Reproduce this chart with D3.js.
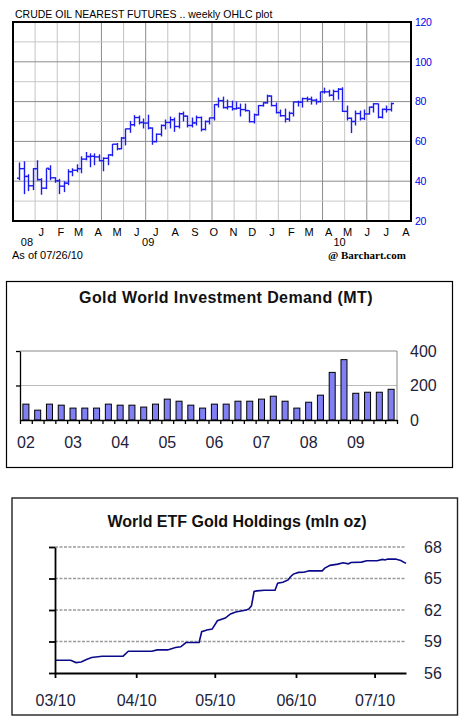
<!DOCTYPE html>
<html>
<head>
<meta charset="utf-8">
<script src="https://cdn.jsdelivr.net/npm/d3@7"></script>
<style>
  body { margin: 0; background: #fff; }
  svg { display: block; font-family: "Liberation Sans", Arial, sans-serif; }
</style>
</head>
<body>
<div id="chart"></div>
<script>
// ---- crude oil, weekly OHLC (week ending Fridays, 12 Dec 2008 .. 23 Jul 2010)
var oilOpen  = [41.5,46.3,42.4,37.7,46.3,40.8,36.5,46.0,41.7,40.2,37.5,39.0,44.8,45.5,46.3,51.1,52.4,52.5,52.2,50.3,51.5,53.2,58.6,56.3,61.7,66.3,68.4,72.0,69.5,69.2,66.7,59.9,63.6,68.0,69.5,70.9,67.5,73.9,72.7,68.0,69.3,72.0,66.0,70.0,71.8,78.5,80.5,77.0,77.4,76.4,76.7,76.0,75.5,69.9,73.4,78.0,79.4,82.8,78.0,74.5,72.9,71.2,74.1,79.8,79.7,81.5,81.2,80.7,80.0,84.9,84.9,83.2,85.1,86.2,75.1,71.6,70.0,74.0,71.5,73.8,77.2,78.9,72.1,76.1,76.0];
var oilHigh  = [49.4,50.0,43.5,46.6,50.5,41.5,46.5,48.0,42.0,41.2,40.0,46.0,46.5,48.5,52.5,54.7,54.0,54.0,53.5,52.0,53.5,58.7,59.2,62.2,66.4,70.3,73.2,73.0,71.5,73.4,67.0,64.0,68.5,71.0,72.5,72.0,74.5,75.0,73.0,72.0,73.0,72.5,70.5,72.0,78.7,82.0,82.5,81.0,80.5,80.0,79.0,79.0,75.5,74.0,78.3,79.7,83.5,83.1,79.5,76.0,76.5,75.0,80.0,80.5,82.0,82.5,82.5,81.5,85.0,87.0,86.0,86.0,86.8,87.2,78.0,72.0,75.5,75.5,76.0,77.5,79.2,79.0,76.5,78.0,79.5];
var oilLow   = [40.5,33.5,35.0,35.5,40.3,33.2,36.0,40.5,39.2,33.5,34.5,38.0,42.5,44.5,44.0,50.5,47.0,48.0,50.0,45.0,48.0,52.5,55.5,56.0,58.0,64.3,67.5,68.5,66.5,66.0,58.3,59.5,62.5,66.0,66.5,64.8,66.5,70.0,67.0,67.0,68.0,65.0,65.5,68.5,70.5,77.0,76.5,76.0,75.5,76.0,72.5,75.0,69.5,69.0,73.0,77.5,79.0,77.6,74.0,72.4,69.5,70.0,72.5,77.5,77.0,80.0,78.5,78.5,79.5,84.0,82.5,80.5,81.0,74.8,70.5,64.2,68.0,70.5,70.7,73.5,74.5,71.6,71.5,74.5,75.0];
var oilClose = [46.3,42.4,37.7,46.3,40.8,36.5,46.5,41.7,40.2,37.5,39.0,44.8,45.5,46.3,51.1,52.4,52.5,52.2,50.3,51.5,53.2,58.6,56.3,61.7,66.3,68.4,72.0,69.5,69.2,66.7,59.9,63.6,68.0,69.5,70.9,67.5,73.9,72.7,68.0,69.3,72.0,66.0,70.0,71.8,78.5,80.5,77.0,77.4,76.4,76.7,76.0,75.5,69.9,73.4,78.0,79.4,82.8,78.0,74.5,72.9,71.2,74.1,79.8,79.7,81.5,81.2,80.7,80.0,84.9,84.9,83.2,85.1,86.2,75.1,71.6,70.0,74.0,71.5,73.8,77.2,78.9,72.1,76.1,76.0,79.0];
var oilPriceTicks = [20, 40, 60, 80, 100, 120];
var monthLetters = ["J","F","M","A","M","J","J","A","S","O","N","D","J","F","M","A","M","J","J","A"];
var yearLabels = [{label: "08", date: "2008-12-24"}, {label: "09", date: "2009-07-04"}, {label: "10", date: "2010-05-03"}];

// ---- gold world investment demand, quarterly, tonnes
var demandYears = ["02","03","04","05","06","07","08","09"];
var demandValues = [92,57,92,86, 69,69,69,92, 86,86,75,92, 121,109,86,69, 92,92,109,109, 121,138,109,69, 103,144,276,350, 155,161,161,178];
var demandTicks = [0, 200, 400];

// ---- world ETF gold holdings, mln oz
var etfDates = ["2010-03-01","2010-03-07","2010-03-09","2010-03-11","2010-03-13","2010-03-15","2010-03-19","2010-03-27","2010-03-29",
  "2010-04-07","2010-04-09","2010-04-13","2010-04-16","2010-04-18","2010-04-20","2010-04-25","2010-04-26","2010-04-28","2010-04-30",
  "2010-05-02","2010-05-05","2010-05-07","2010-05-09","2010-05-11","2010-05-13","2010-05-14","2010-05-15","2010-05-16","2010-05-17",
  "2010-05-20","2010-05-24","2010-05-25","2010-05-27","2010-05-29","2010-05-30","2010-05-31","2010-06-02","2010-06-04","2010-06-06",
  "2010-06-11","2010-06-12","2010-06-14","2010-06-17","2010-06-19","2010-06-21","2010-06-22","2010-06-26","2010-06-28","2010-07-02",
  "2010-07-04","2010-07-05","2010-07-06","2010-07-09","2010-07-11","2010-07-13"];
var etfValues = [57.21,57.21,56.99,57.05,57.28,57.47,57.60,57.60,58.07,
  58.07,58.20,58.20,58.43,58.49,58.90,58.90,59.93,60.09,60.18,
  60.98,61.23,61.62,61.81,61.90,62.00,62.10,62.40,63.76,63.82,
  63.88,63.88,64.55,64.65,64.87,65.19,65.42,65.58,65.60,65.73,
  65.73,65.99,66.25,66.37,66.50,66.40,66.53,66.56,66.69,66.69,
  66.82,66.76,66.85,66.85,66.72,66.44];
var etfTicks = [56, 59, 62, 65, 68];
var etfMonths = ["2010-03-01","2010-04-01","2010-05-01","2010-06-01","2010-07-01"];

var parse = d3.timeParse("%Y-%m-%d");

var svg = d3.select("#chart").append("svg")
  .attr("width", 467)
  .attr("height", 719);
svg.append("rect").attr("width", 467).attr("height", 719).attr("fill", "#fff");

// ================= top: crude oil OHLC =================
var weeks = d3.timeFriday.range(new Date(2008, 11, 12), new Date(2010, 6, 24));
var oilG = svg.append("g");

var x1 = d3.scaleTime()
  .domain([new Date(2008, 11, 2), new Date(2010, 7, 24)])
  .range([13, 411]);
var y1 = d3.scaleLinear()
  .domain([20, 120])
  .range([221, 22]);

oilG.append("text")
  .attr("x", 15).attr("y", 18)
  .attr("font-size", 10.5)
  .attr("fill", "#000")
  .text("CRUDE OIL NEAREST FUTURES .. weekly OHLC plot");

// grid
var gridDates = d3.range(0, 17).map(function(i) { return d3.timeDay.offset(new Date(2009, 0, 6), 35 * i); });
var darkGrid = [3, 5, 8, 13, 15];
oilG.selectAll(".vgrid").data(gridDates).enter().append("line")
  .attr("x1", function(d) { return x1(d); })
  .attr("x2", function(d) { return x1(d); })
  .attr("y1", y1(120)).attr("y2", y1(20))
  .attr("stroke", function(d, i) { return darkGrid.indexOf(i) >= 0 ? "#8c8c8c" : "#c4c4c4"; })
  .attr("stroke-width", 1);
oilG.selectAll(".hgrid").data(d3.range(30, 120, 10)).enter().append("line")
  .attr("x1", 13).attr("x2", 411)
  .attr("y1", function(d) { return y1(d); })
  .attr("y2", function(d) { return y1(d); })
  .attr("stroke", function(d) { return d % 20 === 0 ? "#8c8c8c" : "#c8c8c8"; })
  .attr("stroke-width", 1);

// bars
var bars = oilG.append("g")
  .attr("stroke", "#1c1cf0")
  .attr("stroke-width", 1.4);
weeks.forEach(function(w, i) {
  var cx = Math.round(x1(w)) + 0.5;
  bars.append("line").attr("x1", cx).attr("x2", cx)
    .attr("y1", y1(oilHigh[i])).attr("y2", y1(oilLow[i]));
  bars.append("line").attr("x1", cx - 2.5).attr("x2", cx)
    .attr("y1", y1(oilOpen[i])).attr("y2", y1(oilOpen[i]));
  bars.append("line").attr("x1", cx).attr("x2", cx + 2.5)
    .attr("y1", y1(oilClose[i])).attr("y2", y1(oilClose[i]));
});

oilG.append("rect")
  .attr("x", 13).attr("y", 22)
  .attr("width", 398).attr("height", 199)
  .attr("fill", "none")
  .attr("stroke", "#000")
  .attr("stroke-width", 2);

// price axis (right)
var yAxis1 = oilG.append("g")
  .attr("transform", "translate(411,0)")
  .call(d3.axisRight(y1).tickValues(oilPriceTicks).tickSize(0).tickPadding(4));
yAxis1.select(".domain").remove();
yAxis1.selectAll("text")
  .attr("font-family", "Liberation Sans, Arial, sans-serif")
  .attr("font-size", 10.5)
  .attr("fill", "#0000ee")
  .attr("letter-spacing", -0.4);

// month axis
var monthDates = d3.timeMonth.range(new Date(2009, 0, 1), new Date(2010, 8, 1)).map(function(d) { return d3.timeDay.offset(d, 14); });
var xAxis1 = oilG.append("g")
  .attr("transform", "translate(0,221)")
  .call(d3.axisBottom(x1).tickValues(monthDates).tickSize(0).tickPadding(7)
    .tickFormat(function(d, i) { return monthLetters[i]; }));
xAxis1.select(".domain").remove();
xAxis1.selectAll("text")
  .attr("font-family", "Liberation Sans, Arial, sans-serif")
  .attr("font-size", 11)
  .attr("fill", "#000");

oilG.selectAll(".year").data(yearLabels).enter().append("text")
  .attr("x", function(d) { return x1(parse(d.date)); })
  .attr("y", 246)
  .attr("text-anchor", "middle")
  .attr("font-size", 11)
  .text(function(d) { return d.label; });

oilG.append("text")
  .attr("x", 12).attr("y", 259)
  .attr("font-size", 11)
  .text("As of 07/26/10");
oilG.append("text")
  .attr("x", 328).attr("y", 259)
  .attr("font-family", "Liberation Serif, Times New Roman, serif")
  .attr("font-weight", "bold")
  .attr("font-size", 11)
  .text("@ Barchart.com");

// ================= middle: gold investment demand =================
var mid = svg.append("g");
mid.append("rect")
  .attr("x", 6.5).attr("y", 281.5)
  .attr("width", 446).attr("height", 186)
  .attr("fill", "#fff")
  .attr("stroke", "#000")
  .attr("stroke-width", 1.2);

mid.append("text")
  .attr("x", 226).attr("y", 303)
  .attr("text-anchor", "middle")
  .attr("font-size", 16)
  .attr("font-weight", "bold")
  .attr("letter-spacing", 0.4)
  .attr("fill", "#111")
  .text("Gold World Investment Demand (MT)");

var quarters = demandYears.flatMap(function(y) { return ["Q1","Q2","Q3","Q4"].map(function(q) { return q + " " + y; }); });
var x2 = d3.scaleBand().domain(quarters).range([20, 397]).paddingInner(0.49).paddingOuter(0.245);
var xi2 = d3.scaleLinear().domain([0, quarters.length]).range([20, 397]);
var y2 = d3.scaleLinear().domain([0, 400]).range([420, 351]);

mid.selectAll(".dgrid").data([200, 400]).enter().append("line")
  .attr("x1", 20).attr("x2", 397)
  .attr("y1", function(d) { return y2(d); })
  .attr("y2", function(d) { return y2(d); })
  .attr("stroke", function(d) { return d === 400 ? "#888" : "#bbb"; })
  .attr("stroke-width", 1);
mid.append("line")
  .attr("x1", 397).attr("x2", 397)
  .attr("y1", y2(400)).attr("y2", y2(0))
  .attr("stroke", "#888");

mid.selectAll(".bar").data(demandValues).enter().append("rect")
  .attr("x", function(d, i) { return x2(quarters[i]); })
  .attr("y", function(d) { return y2(d); })
  .attr("width", x2.bandwidth())
  .attr("height", function(d) { return y2(0) - y2(d); })
  .attr("fill", "#8080f4")
  .attr("stroke", "#000")
  .attr("stroke-width", 1);

var leftAxis2 = mid.append("g")
  .attr("transform", "translate(20,0)")
  .call(d3.axisLeft(y2).tickValues([200, 400]).tickSize(4).tickSizeOuter(0).tickFormat(""));
leftAxis2.selectAll("line, path").attr("stroke", "#000").attr("stroke-width", 1.3);

var baseAxis2 = mid.append("g")
  .attr("transform", "translate(0,420)")
  .call(d3.axisBottom(xi2).ticks(32).tickSize(4).tickSizeOuter(0).tickFormat(""));
baseAxis2.selectAll("line, path").attr("stroke", "#000").attr("stroke-width", 1.3);

var yearAxis2 = mid.append("g")
  .attr("transform", "translate(0,420)")
  .call(d3.axisBottom(x2)
    .tickValues(demandYears.map(function(y) { return "Q1 " + y; }))
    .tickSize(0).tickPadding(17)
    .tickFormat(function(d) { return d.slice(3); }));
yearAxis2.select(".domain").remove();
yearAxis2.selectAll("text")
  .attr("font-family", "Liberation Sans, Arial, sans-serif")
  .attr("font-size", 16)
  .attr("fill", "#22223a");

var rightAxis2 = mid.append("g")
  .attr("transform", "translate(397,0)")
  .call(d3.axisRight(y2).tickValues(demandTicks).tickSize(0).tickPadding(13));
rightAxis2.select(".domain").remove();
rightAxis2.selectAll("text")
  .attr("font-family", "Liberation Sans, Arial, sans-serif")
  .attr("font-size", 16)
  .attr("fill", "#22223a");

// ================= bottom: ETF gold holdings =================
var bot = svg.append("g");
bot.append("rect")
  .attr("x", 12).attr("y", 498)
  .attr("width", 445.5).attr("height", 217)
  .attr("fill", "#fff")
  .attr("stroke", "#222")
  .attr("stroke-width", 1.4);

bot.append("text")
  .attr("x", 237).attr("y", 527)
  .attr("text-anchor", "middle")
  .attr("font-size", 16)
  .attr("font-weight", "bold")
  .attr("fill", "#111")
  .text("World ETF Gold Holdings (mln oz)");

var x3 = d3.scaleTime()
  .domain([new Date(2010, 2, 1), new Date(2010, 6, 13)])
  .range([55, 406]);
var y3 = d3.scaleLinear().domain([56, 68]).range([673, 547]);

bot.selectAll(".egrid").data(etfTicks.slice(1)).enter().append("line")
  .attr("x1", 55).attr("x2", 406)
  .attr("y1", function(d) { return y3(d); })
  .attr("y2", function(d) { return y3(d); })
  .attr("stroke", "#9a9a9a")
  .attr("stroke-width", 1.3)
  .attr("stroke-dasharray", "3,1.5");

var etf = etfDates.map(function(d, i) { return {date: parse(d), value: etfValues[i]}; });
bot.append("path")
  .datum(etf)
  .attr("fill", "none")
  .attr("stroke", "#0a0a8a")
  .attr("stroke-width", 1.6)
  .attr("d", d3.line()
    .x(function(d) { return x3(d.date); })
    .y(function(d) { return y3(d.value); }));

var leftAxis3 = bot.append("g")
  .attr("transform", "translate(55,0)")
  .call(d3.axisLeft(y3).tickValues(etfTicks).tickSize(6).tickSizeOuter(0).tickFormat(""));
leftAxis3.selectAll("line, path").attr("stroke", "#000").attr("stroke-width", 1.8);

var xAxis3 = bot.append("g")
  .attr("transform", "translate(0,673)")
  .call(d3.axisBottom(x3).tickValues(etfMonths.map(parse)).tickSize(5).tickSizeOuter(0).tickPadding(17)
    .tickFormat(d3.timeFormat("%m/%y")));
xAxis3.selectAll("line, path").attr("stroke", "#000").attr("stroke-width", 1.8);
xAxis3.selectAll("text")
  .attr("font-family", "Liberation Sans, Arial, sans-serif")
  .attr("font-size", 16)
  .attr("fill", "#22223a");

var rightAxis3 = bot.append("g")
  .attr("transform", "translate(406,0)")
  .call(d3.axisRight(y3).tickValues(etfTicks).tickSize(0).tickPadding(18));
rightAxis3.select(".domain").remove();
rightAxis3.selectAll("text")
  .attr("font-family", "Liberation Sans, Arial, sans-serif")
  .attr("font-size", 16)
  .attr("fill", "#22223a");
</script>
</body>
</html>
